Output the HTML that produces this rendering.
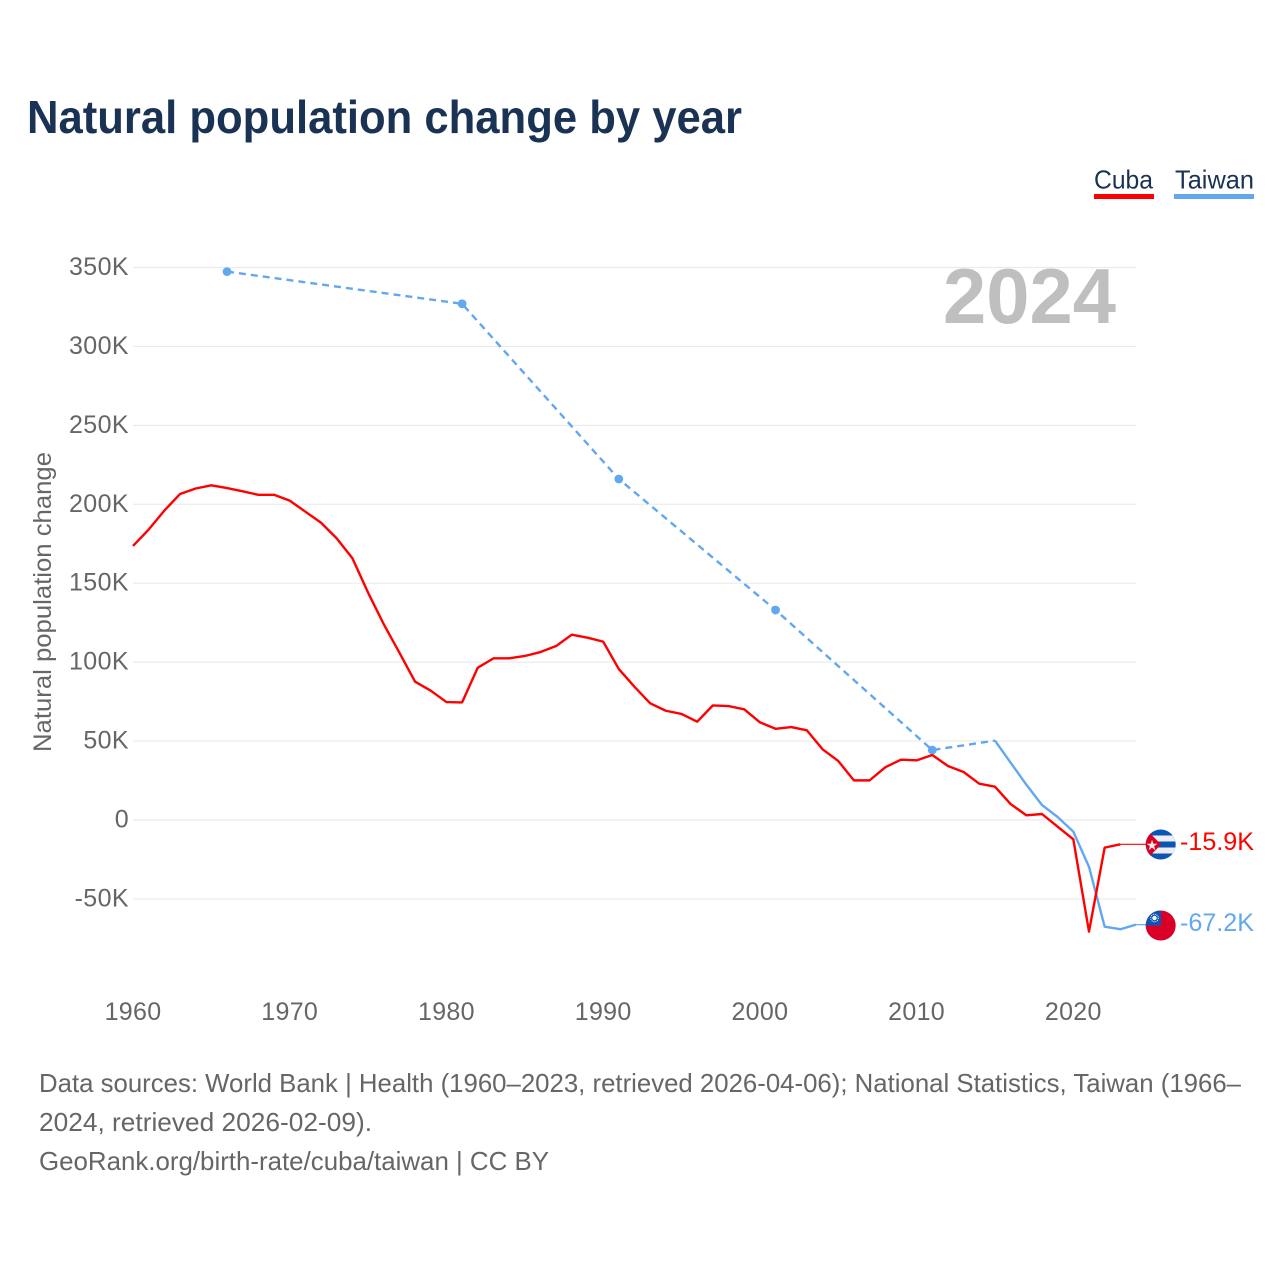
<!DOCTYPE html>
<html lang="en">
<head>
<meta charset="utf-8">
<title>Natural population change by year</title>
<style>
html,body{margin:0;padding:0;background:#fff;width:1280px;height:1280px;overflow:hidden}
svg{display:block}
text{font-family:"Liberation Sans",sans-serif}
</style>
</head>
<body>
<svg id="chart" xmlns="http://www.w3.org/2000/svg" width="1280" height="1280" viewBox="0 0 1280 1280">
  <defs>
    <clipPath id="flag-clip-cuba"><circle cx="1160.7" cy="844.5" r="15"></circle></clipPath>
    <clipPath id="flag-clip-taiwan"><circle cx="1160.7" cy="925.5" r="15"></circle></clipPath>
  </defs>
  <text x="27" y="133" font-size="46" font-weight="700" fill="#1a3253" textLength="715" lengthAdjust="spacingAndGlyphs">Natural population change by year</text>

  <g>
    <text x="1094" y="188.500" font-size="26" fill="#1a3253" textLength="59" lengthAdjust="spacingAndGlyphs">Cuba</text>
    <rect x="1094" y="194" width="60" height="5" fill="#ff0000"></rect>
  </g>
  <g>
    <text x="1175" y="188.500" font-size="26" fill="#1a3253" textLength="79" lengthAdjust="spacingAndGlyphs">Taiwan</text>
    <rect x="1174" y="194" width="80" height="5" fill="#62a8ee"></rect>
  </g>

  <g id="grid"></g>
  <g id="y-ticks"></g>
  <g id="x-ticks"></g>

  <text transform="translate(51,602) rotate(-90)" text-anchor="middle" font-size="25" fill="#666" textLength="300" lengthAdjust="spacingAndGlyphs">Natural population change</text>

  <text x="943" y="323" font-size="78" font-weight="700" fill="#bfbfbf" textLength="173" lengthAdjust="spacingAndGlyphs">2024</text>

  <g id="series"></g>

  <g clip-path="url(#flag-clip-cuba)">
    <rect x="1145" y="829" width="32" height="31" fill="#0b56b5"></rect>
    <rect x="1145" y="835.5" width="32" height="6" fill="#eeeeee"></rect>
    <rect x="1145" y="847.5" width="32" height="6" fill="#eeeeee"></rect>
    <polygon points="1145,829 1146,829 1161,844.5 1146,860 1145,860" fill="#d80027"></polygon>
    <text x="1152" y="850" font-size="14" text-anchor="middle" fill="#eeeeee">★</text>
  </g>
  <g clip-path="url(#flag-clip-taiwan)">
    <rect x="1145" y="910" width="32" height="31" fill="#d80027"></rect>
    <rect x="1145" y="910" width="16" height="15.5" fill="#0b56b5"></rect>
    <circle cx="1154.500" cy="918" r="2.200" fill="#fff"></circle>
    <circle cx="1154.500" cy="918" r="3.800" fill="none" stroke="#fff" stroke-width="1" stroke-dasharray="1 1"></circle>
  </g>

  <g id="end-labels"></g>

  <g font-size="26" fill="#666">
    <text x="39" y="1092" textLength="1202" lengthAdjust="spacingAndGlyphs">Data sources: World Bank | Health (1960–2023, retrieved 2026-04-06); National Statistics, Taiwan (1966–</text>
    <text x="39" y="1131" textLength="333" lengthAdjust="spacingAndGlyphs">2024, retrieved 2026-02-09).</text>
    <text x="39" y="1170" textLength="510" lengthAdjust="spacingAndGlyphs">GeoRank.org/birth-rate/cuba/taiwan | CC BY</text>
  </g>
</svg>
<script>
const yTickValues = [350, 300, 250, 200, 150, 100, 50, 0, -50];
const yTickLabels = ["350K", "300K", "250K", "200K", "150K", "100K", "50K", "0", "-50K"];
const xTickValues = [1960, 1970, 1980, 1990, 2000, 2010, 2020];
const cubaYears = [1960,1961,1962,1963,1964,1965,1966,1967,1968,1969,1970,1971,1972,1973,1974,1975,1976,1977,1978,1979,1980,1981,1982,1983,1984,1985,1986,1987,1988,1989,1990,1991,1992,1993,1994,1995,1996,1997,1998,1999,2000,2001,2002,2003,2004,2005,2006,2007,2008,2009,2010,2011,2012,2013,2014,2015,2016,2017,2018,2019,2020,2021,2022,2023];
const cubaValues = [173.6,184,196,206.5,210,212,210.3,208.2,206,206,202.3,195.3,188.3,178.4,165.8,144,124,106,87.6,81.9,74.7,74.5,96.5,102.4,102.4,103.9,106.4,110.2,117.4,115.5,113,95.6,84.4,73.9,69.2,67.2,62.3,72.6,72.2,70.1,61.9,57.8,58.9,56.8,44.8,37.4,25.1,25.1,33.4,38.2,37.8,41.2,34.2,30.4,23,21.1,10.1,3,3.8,-4.2,-12.2,-70.7,-17.5,-15.4];
const taiwanDashedYears = [1966,1981,1991,2001,2011,2015];
const taiwanDashedValues = [347.4,327,216,133,44.3,50.3];
const taiwanMarkerYears = [1966,1981,1991,2001,2011];
const taiwanMarkerValues = [347.4,327,216,133,44.3];
const taiwanSolidYears = [2015,2016,2017,2018,2019,2020,2021,2022,2023,2024];
const taiwanSolidValues = [50.3,36.3,22.4,9.5,1.9,-7.4,-29.6,-67.6,-69.2,-66.3];
const cubaEndLabel = "-15.9K";
const taiwanEndLabel = "-67.2K";
const cubaEndValue = -15.4;
const taiwanEndValue = -66.3;

const NS = "http://www.w3.org/2000/svg";
const xScale = y => 133 + (y - 1960) * (1003 / 64);
const yScale = v => 820 - v * (78.93 / 50);
const make = (tag, attrs, parent) => {
  const el = document.createElementNS(NS, tag);
  Object.keys(attrs).forEach(k => el.setAttribute(k, attrs[k]));
  parent.appendChild(el);
  return el;
};
const pathOf = (xs, vs) => xs.map((y, i) => (i ? "L" : "M") + xScale(y).toFixed(2) + " " + yScale(vs[i]).toFixed(2)).join(" ");

const grid = document.getElementById("grid");
const yTicks = document.getElementById("y-ticks");
const xTicks = document.getElementById("x-ticks");
const series = document.getElementById("series");
const endLabels = document.getElementById("end-labels");

yTickValues.forEach((v, i) => {
  const line = make("line", {x1: 133, x2: 1136, y1: yScale(v), y2: yScale(v), stroke: "#ebebeb", "stroke-width": 1.2}, grid);
  
  
  const label = make("text", {x: 129, y: yScale(v) + 7.5, "text-anchor": "end", "font-size": 25, fill: "#666", style: "letter-spacing:.4px"}, yTicks);
  label.textContent = yTickLabels[i];
  
  
});

xTickValues.forEach(y => {
  const label = make("text", {x: xScale(y), y: 1020, "text-anchor": "middle", "font-size": 25, fill: "#666", style: "letter-spacing:.3px"}, xTicks);
  label.textContent = y;
  
  
});

const dashed = make("path", {d: pathOf(taiwanDashedYears, taiwanDashedValues), fill: "none", stroke: "#62a8ee", "stroke-width": 2.4, "stroke-dasharray": "7 5"}, series);



const solid = make("path", {d: pathOf(taiwanSolidYears, taiwanSolidValues), fill: "none", stroke: "#62a8ee", "stroke-width": 2.4, "stroke-linejoin": "round"}, series);



taiwanMarkerYears.forEach((y, i) => {
  const dot = make("circle", {cx: xScale(y), cy: yScale(taiwanMarkerValues[i]), r: 4.4, fill: "#62a8ee"}, series);
  
  
});

const taiwanLeader = make("line", {x1: xScale(2024), x2: 1146, y1: yScale(taiwanEndValue), y2: yScale(taiwanEndValue), stroke: "#62a8ee", "stroke-width": 1.2}, series);



const cuba = make("path", {d: pathOf(cubaYears, cubaValues), fill: "none", stroke: "#ff0000", "stroke-width": 2.4, "stroke-linejoin": "round"}, series);



const cubaLeader = make("line", {x1: xScale(2023), x2: 1146, y1: yScale(cubaEndValue), y2: yScale(cubaEndValue), stroke: "#ff0000", "stroke-width": 1.2}, series);



const cubaLabel = make("text", {x: 1254, y: 850, "text-anchor": "end", "font-size": 25, fill: "#ff0000", textLength: 74, lengthAdjust: "spacingAndGlyphs"}, endLabels);
cubaLabel.textContent = cubaEndLabel;



const taiwanLabel = make("text", {x: 1254, y: 931, "text-anchor": "end", "font-size": 25, fill: "#62a8ee", textLength: 74, lengthAdjust: "spacingAndGlyphs"}, endLabels);
taiwanLabel.textContent = taiwanEndLabel;


</script>
</body>
</html>
